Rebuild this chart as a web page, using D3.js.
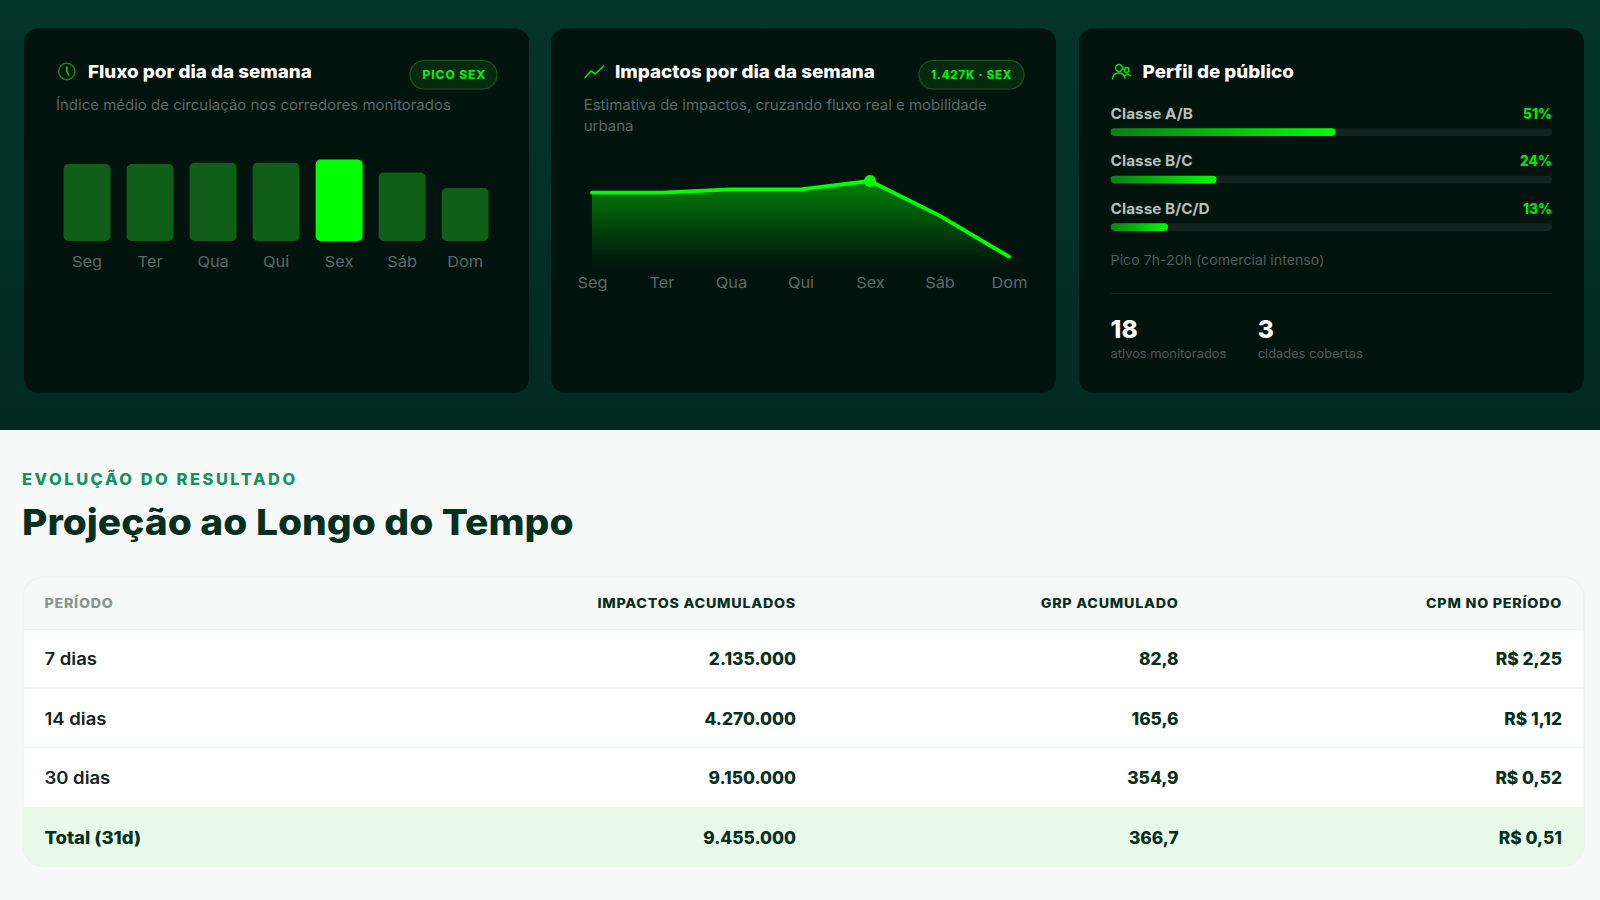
<!DOCTYPE html>
<html lang="pt-BR">
<head>
<meta charset="utf-8">
<title>Projeção ao Longo do Tempo</title>
<script src="https://cdn.jsdelivr.net/npm/d3@7"></script>
<style>
  html, body { margin: 0; padding: 0; background: #f7f8f8; }
  svg { display: block; }
  text { font-family: Inter, "Noto Sans", sans-serif; }
  .axis path, .axis line { display: none; }
</style>
</head>
<body>
<svg id="page" width="1600" height="900"></svg>
<script>
// weekdays shared by both charts
var days = ["Seg", "Ter", "Qua", "Qui", "Sex", "Sáb", "Dom"];
var peakDay = "Sex";
var fluxo = [94.5, 94.5, 96, 96, 100, 84, 65];
var impactos = [1350, 1350, 1372, 1372, 1427, 1199, 928];

var classes = ["Classe A/B", "Classe B/C", "Classe B/C/D"];
var classShare = [51, 24, 13];

var statValues = ["18", "3"];
var statLabels = ["ativos monitorados", "cidades cobertas"];

var tableHead = ["PERÍODO", "IMPACTOS ACUMULADOS", "GRP ACUMULADO", "CPM NO PERÍODO"];
var periods = ["7 dias", "14 dias", "30 dias", "Total (31d)"];
var impactosAcum = ["2.135.000", "4.270.000", "9.150.000", "9.455.000"];
var grpAcum = ["82,8", "165,6", "354,9", "366,7"];
var cpmPeriodo = ["R$ 2,25", "R$ 1,12", "R$ 0,52", "R$ 0,51"];

var GREEN = "#00ff00";
var svg = d3.select("#page");
var defs = svg.append("defs");

// widens the glyphs, the original face is wider than Inter
function stretch(t, k) {
  t.attr("textLength", t.node().getComputedTextLength() * k)
    .attr("lengthAdjust", "spacingAndGlyphs");
}

function txt(parent, x, y, str, size, weight, fill, opts) {
  opts = opts || {};
  var t = parent.append("text")
    .attr("x", x).attr("y", y)
    .attr("font-size", size).attr("font-weight", weight)
    .attr("fill", fill)
    .attr("text-anchor", opts.anchor || "start")
    .attr("letter-spacing", opts.spacing || 0)
    .text(str);
  stretch(t, opts.stretch || 1.06);
  return t;
}

function gradient(id, x2, y2, stops) {
  var g = defs.append("linearGradient").attr("id", id)
    .attr("x1", 0).attr("y1", 0).attr("x2", x2).attr("y2", y2);
  stops.forEach(function(s) {
    g.append("stop").attr("offset", s[0]).attr("stop-color", s[1]).attr("stop-opacity", s[2]);
  });
}

gradient("topBg", 0, 1, [[0, "#033528", 1], [1, "#022b20", 1]]);
gradient("areaFill", 0, 1, [[0, GREEN, 0.47], [1, GREEN, 0]]);
gradient("barFill", 1, 0, [[0, "#0a7f14", 1], [1, GREEN, 1]]);

// page background
svg.append("rect").attr("width", 1600).attr("height", 430).attr("fill", "url(#topBg)");
svg.append("rect").attr("y", 430).attr("width", 1600).attr("height", 470).attr("fill", "#f7f8f8");

// three dark cards
[24, 551, 1079].forEach(function(x) {
  svg.append("rect").attr("x", x).attr("y", 28.5).attr("width", 505).attr("height", 364)
    .attr("rx", 14).attr("fill", "#03130e");
});

function badge(x, w, str, textX, k) {
  svg.append("rect").attr("x", x).attr("y", 60.5).attr("width", w).attr("height", 28.5)
    .attr("rx", 14.25).attr("fill", "#07290f").attr("stroke", "#14591c").attr("stroke-width", 1.2);
  txt(svg, textX, 79, str, 11.5, 800, "#00ee06", {spacing: 0.9, stretch: k});
}

function dayAxis(scale, y) {
  var axis = d3.axisBottom(scale).tickSize(0).tickPadding(0);
  var g = svg.append("g").attr("class", "axis").attr("transform", "translate(0," + y + ")").call(axis);
  g.attr("font-family", null).attr("font-size", null);
  g.selectAll("text")
    .attr("dy", 0).attr("y", 0)
    .attr("font-size", 15).attr("fill", "#5d6966")
    .each(function() { stretch(d3.select(this), 1.09); });
}

// ---- card 1, fluxo
var clock = svg.append("g").attr("transform", "translate(66.8,71.5)")
  .attr("fill", "none").attr("stroke-linecap", "round");
clock.append("circle").attr("r", 8.2).attr("stroke", "#0b8a14").attr("stroke-width", 1.4);
clock.append("path").attr("d", "M0,-4.5V0L2,3.5").attr("stroke", "#00d80a").attr("stroke-width", 1.5);

txt(svg, 88, 78, "Fluxo por dia da semana", 18, 800, "#ffffff", {stretch: 1.045});
badge(410, 87, "PICO SEX", 422.5, 1.04);
txt(svg, 56, 110, "Índice médio de circulação nos corredores monitorados", 14, 400, "#5d6966", {stretch: 1.07});

var xBar = d3.scaleBand().domain(days).range([63.6, 488.6]).paddingInner(0.255).paddingOuter(0);
var yBar = d3.scaleLinear().domain([0, 100]).range([241, 159.5]);

svg.append("g").selectAll("rect").data(days).join("rect")
  .attr("x", function(d) { return xBar(d); })
  .attr("y", function(d, i) { return yBar(fluxo[i]); })
  .attr("width", xBar.bandwidth())
  .attr("height", function(d, i) { return yBar(0) - yBar(fluxo[i]); })
  .attr("rx", 5)
  .attr("fill", function(d) { return d === peakDay ? GREEN : "#0f5f18"; });
dayAxis(xBar, 266.5);

// ---- card 2, impactos
svg.append("path").attr("d", "M585,77.5L591,71L595,74L603.5,66")
  .attr("fill", "none").attr("stroke", "#00e60a").attr("stroke-width", 1.6)
  .attr("stroke-linecap", "round").attr("stroke-linejoin", "round");

txt(svg, 615, 78, "Impactos por dia da semana", 18, 800, "#ffffff", {stretch: 1.045});
badge(919, 105, "1.427K · SEX", 931, 0.98);
txt(svg, 583.7, 110, "Estimativa de impactos, cruzando fluxo real e mobilidade", 14, 400, "#5d6966", {stretch: 1.07});
txt(svg, 583.7, 131, "urbana", 14, 400, "#5d6966", {stretch: 1.07});

var xLine = d3.scalePoint().domain(days).range([592, 1009]);
var yLine = d3.scaleLinear().domain([860, 1427]).range([267, 181]);

var area = d3.area()
  .x(function(d) { return xLine(d); })
  .y0(yLine(860))
  .y1(function(d, i) { return yLine(impactos[i]); });
var line = d3.line()
  .x(function(d) { return xLine(d); })
  .y(function(d, i) { return yLine(impactos[i]); });

svg.append("path").attr("d", area(days)).attr("fill", "url(#areaFill)");
svg.append("path").attr("d", line(days)).attr("fill", "none")
  .attr("stroke", GREEN).attr("stroke-width", 3.8).attr("stroke-linecap", "round").attr("stroke-linejoin", "round");
svg.append("circle")
  .attr("cx", xLine(peakDay))
  .attr("cy", yLine(impactos[days.indexOf(peakDay)]))
  .attr("r", 6).attr("fill", GREEN);
dayAxis(xLine, 288);

// ---- card 3, perfil
var people = svg.append("g").attr("fill", "none").attr("stroke", "#00e60a")
  .attr("stroke-width", 1.5).attr("stroke-linecap", "round");
people.append("circle").attr("cx", 1119).attr("cy", 68).attr("r", 3.4);
people.append("circle").attr("cx", 1126.5).attr("cy", 70).attr("r", 2.4);
people.append("path").attr("d", "M1112.5,79C1113.5,71 1123,71.5 1125,78");
people.append("path").attr("d", "M1125,75.5C1126.5,74 1129,74.5 1130.5,75.5");

txt(svg, 1142.6, 78, "Perfil de público", 18, 800, "#ffffff", {stretch: 1.045});

var xShare = d3.scaleLinear().domain([0, 100]).range([1110.6, 1552]);
var rowY = d3.scalePoint().domain(classes).range([128.3, 223.3]);

classes.forEach(function(c, i) {
  var y = rowY(c);
  txt(svg, xShare(0), y - 9.8, c, 14.5, 700, "#b7c0bd");
  txt(svg, xShare(100), y - 9.8, classShare[i] + "%", 14.5, 800, "#00e60a", {anchor: "end", stretch: 0.94});
  svg.append("rect").attr("x", xShare(0)).attr("y", y).attr("width", xShare(100) - xShare(0))
    .attr("height", 7.6).attr("rx", 3.8).attr("fill", "#14231f");
  svg.append("rect").attr("x", xShare(0)).attr("y", y).attr("width", xShare(classShare[i]) - xShare(0))
    .attr("height", 7.6).attr("rx", 3.8).attr("fill", "url(#barFill)");
});

txt(svg, 1110.6, 265, "Pico 7h-20h (comercial intenso)", 13.5, 400, "#515c59", {stretch: 1.05});
svg.append("line").attr("x1", 1110.6).attr("x2", 1552).attr("y1", 293.5).attr("y2", 293.5)
  .attr("stroke", "#13231e").attr("stroke-width", 1);

[1110.6, 1257.7].forEach(function(x, i) {
  txt(svg, x, 338, statValues[i], 25, 800, "#ffffff", {stretch: 0.98});
  txt(svg, x, 358, statLabels[i], 12.5, 400, "#515c59", {stretch: 1.03});
});

// ---- section heading
txt(svg, 22, 485, "EVOLUÇÃO DO RESULTADO", 15.5, 800, "#12935f", {spacing: 2.4, stretch: 1.06});
txt(svg, 22, 535, "Projeção ao Longo do Tempo", 36, 800, "#05301f", {stretch: 1.082});

// ---- table
var tableX = 23, tableW = 1561, tableY = 577, tableB = 866.5;
var rowTops = [629.5, 688, 747.5, 807, tableB];

defs.append("clipPath").attr("id", "tableClip").append("rect")
  .attr("x", tableX).attr("y", tableY).attr("width", tableW).attr("height", tableB - tableY).attr("rx", 20);

var tbl = svg.append("g").attr("clip-path", "url(#tableClip)");
tbl.append("rect").attr("x", tableX).attr("y", tableY).attr("width", tableW).attr("height", tableB - tableY).attr("fill", "#ffffff");
tbl.append("rect").attr("x", tableX).attr("y", tableY).attr("width", tableW).attr("height", rowTops[0] - tableY).attr("fill", "#f7f8f8");
tbl.append("rect").attr("x", tableX).attr("y", rowTops[3]).attr("width", tableW).attr("height", tableB - rowTops[3]).attr("fill", "#e8f9e8");
rowTops.slice(0, 3).forEach(function(y) {
  tbl.append("line").attr("x1", tableX).attr("x2", tableX + tableW).attr("y1", y).attr("y2", y)
    .attr("stroke", "#f0f2f1").attr("stroke-width", 1.5);
});
svg.append("rect").attr("x", tableX).attr("y", tableY).attr("width", tableW).attr("height", tableB - tableY)
  .attr("rx", 20).attr("fill", "none").attr("stroke", "#f0f1f1").attr("stroke-width", 1.2);

var colRight = [44.4, 796, 1178.6, 1562];
tableHead.forEach(function(h, i) {
  txt(svg, colRight[i], 608, h, 13, 800, i === 0 ? "#8b9491" : "#05301f",
    {anchor: i === 0 ? "start" : "end", spacing: 0.7, stretch: 1.096});
});

var rowMid = [659, 718.5, 778, 837.5];
periods.forEach(function(p, i) {
  var total = i === periods.length - 1;
  txt(svg, colRight[0], rowMid[i] + 6, p, 17, total ? 800 : 600, total ? "#05301f" : "#14231f", {stretch: 1.09});
  [impactosAcum, grpAcum, cpmPeriodo].forEach(function(col, j) {
    txt(svg, colRight[j + 1], rowMid[i] + 6, col[i], 17, 800, "#05301f", {anchor: "end", stretch: 1.02});
  });
});
</script>
</body>
</html>
